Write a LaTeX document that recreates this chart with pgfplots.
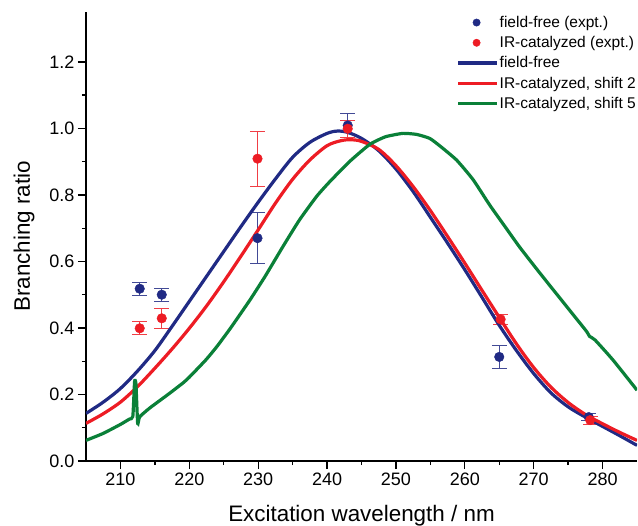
\documentclass[border=0pt]{standalone}
\usepackage{pgfplots}
\pgfplotsset{compat=1.18}
\usepackage{fontspec}
\setmainfont{Liberation Sans}
\definecolor{cblue}{RGB}{32,42,132}
\definecolor{cred}{RGB}{237,28,36}
\definecolor{cgreen}{RGB}{10,128,56}

\pgfplotsset{
  markleg/.style={legend image code/.code={\draw[mark repeat=2,mark phase=2,##1,mark size=3.7bp] plot coordinates {(0bp,0bp)(18.5bp,0bp)(37bp,0bp)};\path (38.5bp,0bp);}},
  lineleg/.style={legend image code/.code={\draw[##1] (0bp,0bp) -- (39bp,0bp);}},
}

\pgfplotstableread{
x y e
212.8 0.518 0.020
216.0 0.500 0.020
229.9 0.670 0.076
243.0 1.009 0.036
265.0 0.313 0.035
278.0 0.132 0.010
}\bluedata
\pgfplotstableread{
x y e
212.8 0.399 0.020
216.0 0.429 0.029
229.9 0.909 0.083
243.0 0.999 0.025
265.2 0.426 0.015
278.2 0.123 0.012
}\reddata

\begin{document}
\begin{tikzpicture}
\begin{axis}[
  scale only axis, width=551bp, height=449bp,
  xmin=205, xmax=285, ymin=0, ymax=1.35,
  axis x line*=bottom, axis y line*=left,
  axis line style={line width=1.8bp, black},
  tick align=outside,
  major tick length=8bp, minor tick length=4bp,
  every tick/.style={line width=1.3bp, black},
  xtick={210,220,...,280},
  ytick={0,0.2,0.4,0.6,0.8,1.0,1.2},
  minor x tick num=1, minor y tick num=1,
  yticklabel style={/pgf/number format/.cd, fixed, fixed zerofill, precision=1},
  /pgf/number format/assume math mode=true,
  ticklabel style={font=\fontsize{18bp}{21bp}\selectfont},
  label style={font=\fontsize{22.4bp}{26bp}\selectfont},
  xlabel={Excitation wavelength / nm},
  ylabel={Branching ratio},
  xlabel style={at={(axis description cs:0.5,0)}, anchor=base, yshift=-60.3bp},
  ylabel style={at={(axis description cs:-0.1125,0.5)}, anchor=center},
  legend style={draw=none, fill=none, at={(1,1)}, anchor=north east,
    yshift=-3bp,
    font=\fontsize{15.5bp}{18bp}\selectfont, inner sep=0pt, row sep=5.5bp,
    nodes={inner sep=1bp},
    /tikz/every even column/.append style={column sep=0pt}},
  legend cell align=left,
]
\addplot[only marks, mark=*, mark size=4.8bp, color=cblue, markleg,
  error bars/.cd, y dir=both, y explicit,
  error bar style={line width=0.9bp, cblue!85},
  error mark options={rotate=90, mark size=7.5bp, line width=0.9bp, cblue!85}]
  table[x=x, y=y, y error=e] {\bluedata};
\addlegendentry{field-free (expt.)}
\addplot[only marks, mark=*, mark size=4.8bp, color=cred, markleg,
  error bars/.cd, y dir=both, y explicit,
  error bar style={line width=0.9bp, cred!85},
  error mark options={rotate=90, mark size=7.5bp, line width=0.9bp, cred!85}]
  table[x=x, y=y, y error=e] {\reddata};
\addlegendentry{IR-catalyzed (expt.)}
\addplot[cblue, line width=3.2bp, no marks, smooth, lineleg] coordinates {
(205,0.143) (207.5,0.177) (210,0.218) (212.5,0.271) (215,0.332) (217.5,0.405)
(220,0.480) (222.5,0.555) (225,0.630) (227.5,0.705) (230,0.778) (232.5,0.848)
(235,0.913) (237.5,0.958) (240,0.985) (241.5,0.992) (243,0.988) (245,0.970)
(247.5,0.933) (250,0.878) (252.5,0.810) (255,0.733) (257.5,0.655) (260,0.575)
(262.5,0.492) (265,0.408) (267.5,0.332) (270,0.263) (272.5,0.205) (275,0.163)
(277.5,0.132) (280,0.104) (282.5,0.076) (285,0.047)};
\addlegendentry{field-free}
\addplot[cred, line width=3.2bp, no marks, smooth, lineleg] coordinates {
(205,0.113) (207.5,0.142) (210,0.177) (212.5,0.224) (215,0.279) (217.5,0.337)
(220,0.399) (222.5,0.466) (225,0.539) (227.5,0.616) (230,0.695) (232.5,0.775)
(235,0.847) (237.5,0.905) (240,0.948) (242,0.963) (243.5,0.966) (245,0.961)
(247.5,0.937) (250,0.888) (252.5,0.825) (255,0.753) (257.5,0.675) (260,0.595)
(262.5,0.513) (265,0.432) (267.5,0.352) (270,0.281) (272.5,0.222) (275,0.176)
(277.5,0.140) (280,0.112) (282.5,0.086) (285,0.062)};
\addlegendentry{IR-catalyzed, shift 2}
\addplot[cgreen, line width=3.2bp, no marks, smooth, tension=0.3, lineleg] coordinates {
(205,0.062) (207.5,0.083) (210,0.110) (211.3,0.126) (211.8,0.134) (212.05,0.238)
(212.25,0.232) (212.5,0.113) (212.8,0.133) (214.3,0.160) (217.1,0.203) (219.1,0.235)
(220,0.252) (222.4,0.304) (224,0.344) (226,0.400) (228.8,0.484) (231,0.555)
(233.6,0.645) (236,0.725) (238.5,0.796) (240.4,0.840) (243.3,0.901) (246.2,0.952)
(248.5,0.975) (251,0.985) (253,0.982) (254.9,0.970) (256.4,0.947) (258.8,0.905)
(261.2,0.846) (263.6,0.770) (266,0.700) (268,0.642) (270.9,0.565) (274.8,0.464)
(277.7,0.389) (278.1,0.375) (278.9,0.364) (281.5,0.304) (285,0.213)};
\addlegendentry{IR-catalyzed, shift 5}
\end{axis}
\pgfresetboundingbox
\path (-86bp,-64.3bp) rectangle (552bp,461bp);
\end{tikzpicture}
\end{document}
